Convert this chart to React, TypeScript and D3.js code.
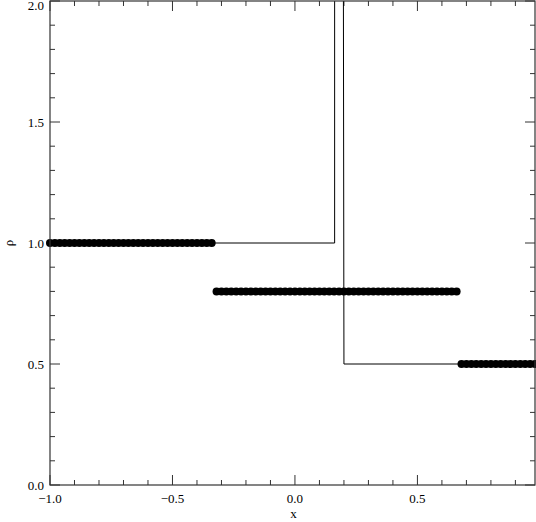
import * as React from 'react';
import * as d3 from 'd3';

// cell centres of the numerical solution
const cellX = [
  -1.00, -0.98, -0.96, -0.94, -0.92, -0.90, -0.88, -0.86, -0.84, -0.82,
  -0.80, -0.78, -0.76, -0.74, -0.72, -0.70, -0.68, -0.66, -0.64, -0.62,
  -0.60, -0.58, -0.56, -0.54, -0.52, -0.50, -0.48, -0.46, -0.44, -0.42,
  -0.40, -0.38, -0.36, -0.34, -0.32, -0.30, -0.28, -0.26, -0.24, -0.22,
  -0.20, -0.18, -0.16, -0.14, -0.12, -0.10, -0.08, -0.06, -0.04, -0.02,
  0.00, 0.02, 0.04, 0.06, 0.08, 0.10, 0.12, 0.14, 0.16, 0.18,
  0.20, 0.22, 0.24, 0.26, 0.28, 0.30, 0.32, 0.34, 0.36, 0.38,
  0.40, 0.42, 0.44, 0.46, 0.48, 0.50, 0.52, 0.54, 0.56, 0.58,
  0.60, 0.62, 0.64, 0.66, 0.68, 0.70, 0.72, 0.74, 0.76, 0.78,
  0.80, 0.82, 0.84, 0.86, 0.88, 0.90, 0.92, 0.94, 0.96, 0.98,
];
const cellRho = [
  1.0, 1.0, 1.0, 1.0, 1.0, 1.0, 1.0, 1.0, 1.0, 1.0,
  1.0, 1.0, 1.0, 1.0, 1.0, 1.0, 1.0, 1.0, 1.0, 1.0,
  1.0, 1.0, 1.0, 1.0, 1.0, 1.0, 1.0, 1.0, 1.0, 1.0,
  1.0, 1.0, 1.0, 1.0, 0.8, 0.8, 0.8, 0.8, 0.8, 0.8,
  0.8, 0.8, 0.8, 0.8, 0.8, 0.8, 0.8, 0.8, 0.8, 0.8,
  0.8, 0.8, 0.8, 0.8, 0.8, 0.8, 0.8, 0.8, 0.8, 0.8,
  0.8, 0.8, 0.8, 0.8, 0.8, 0.8, 0.8, 0.8, 0.8, 0.8,
  0.8, 0.8, 0.8, 0.8, 0.8, 0.8, 0.8, 0.8, 0.8, 0.8,
  0.8, 0.8, 0.8, 0.8, 0.5, 0.5, 0.5, 0.5, 0.5, 0.5,
  0.5, 0.5, 0.5, 0.5, 0.5, 0.5, 0.5, 0.5, 0.5, 0.5,
];

// exact solution
const exactX = [-1.0, 0.162, 0.162, 0.197, 0.2, 0.98];
const exactRho = [1.0, 1.0, 2.6, 2.6, 0.5, 0.5];

const xMajor = [-1.0, -0.5, 0.0, 0.5];
const xMinor = [-0.9, -0.8, -0.7, -0.6, -0.4, -0.3, -0.2, -0.1, 0.1, 0.2, 0.3, 0.4, 0.6, 0.7, 0.8, 0.9];
const yMajor = [0.0, 0.5, 1.0, 1.5, 2.0];
const yMinor = [0.1, 0.2, 0.3, 0.4, 0.6, 0.7, 0.8, 0.9, 1.1, 1.2, 1.3, 1.4, 1.6, 1.7, 1.8, 1.9];

const W = 536, H = 522;
const left = 50, right = 535, top = 1, bottom = 485;

export default function App() {
  const x = d3.scaleLinear().domain([-1, 0.98]).range([left, right]);
  const y = d3.scaleLinear().domain([0, 2]).range([bottom, top]);

  const line = d3.line<number>()
    .x((d, i) => x(exactX[i]))
    .y((d) => y(d));

  const font = { fontFamily: '"Liberation Serif", "Times New Roman", serif', fontSize: 13 };
  const axisCol = '#333';

  return (
    <svg width={W} height={H} style={{ position: 'absolute', left: 0, top: 0, background: '#fff' }}>
      <defs>
        <clipPath id="plot">
          <rect x={left} y={top} width={right - left} height={bottom - top} />
        </clipPath>
      </defs>

      {/* ticks, inward on all sides */}
      {xMajor.map((v) => (
        <g key={'xM' + v} stroke={axisCol}>
          <line x1={x(v)} x2={x(v)} y1={bottom} y2={bottom - 10} />
          <line x1={x(v)} x2={x(v)} y1={top} y2={top + 10} />
        </g>
      ))}
      {xMinor.map((v) => (
        <g key={'xm' + v} stroke={axisCol}>
          <line x1={x(v)} x2={x(v)} y1={bottom} y2={bottom - 5} />
          <line x1={x(v)} x2={x(v)} y1={top} y2={top + 5} />
        </g>
      ))}
      {yMajor.map((v) => (
        <g key={'yM' + v} stroke={axisCol}>
          <line x1={left} x2={left + 10} y1={y(v)} y2={y(v)} />
          <line x1={right} x2={right - 10} y1={y(v)} y2={y(v)} />
        </g>
      ))}
      {yMinor.map((v) => (
        <g key={'ym' + v} stroke={axisCol}>
          <line x1={left} x2={left + 5} y1={y(v)} y2={y(v)} />
          <line x1={right} x2={right - 5} y1={y(v)} y2={y(v)} />
        </g>
      ))}

      <path d={line(exactRho) ?? ''} fill="none" stroke="#000" strokeWidth={1} clipPath="url(#plot)" />

      {cellX.map((v, i) => (
        <circle key={'c' + i} cx={x(v)} cy={y(cellRho[i])} r={4} fill="#000" />
      ))}

      <rect x={left} y={top} width={right - left} height={bottom - top} fill="none" stroke={axisCol} strokeWidth={1.2} />

      {xMajor.map((v) => (
        <text key={'xl' + v} x={x(v)} y={bottom + 18} textAnchor="middle" style={font}>
          {d3.format('.1f')(v)}
        </text>
      ))}
      {yMajor.map((v) => (
        <text key={'yl' + v} x={left - 6} y={Math.max(y(v) + 5, 10)} textAnchor="end" style={font}>
          {d3.format('.1f')(v)}
        </text>
      ))}

      <text x={(left + right) / 2 + 1} y={518} textAnchor="middle" style={font}>x</text>
      <text transform={`translate(13,${y(1)}) rotate(-90)`} textAnchor="middle" style={font}>ρ</text>
    </svg>
  );
}
